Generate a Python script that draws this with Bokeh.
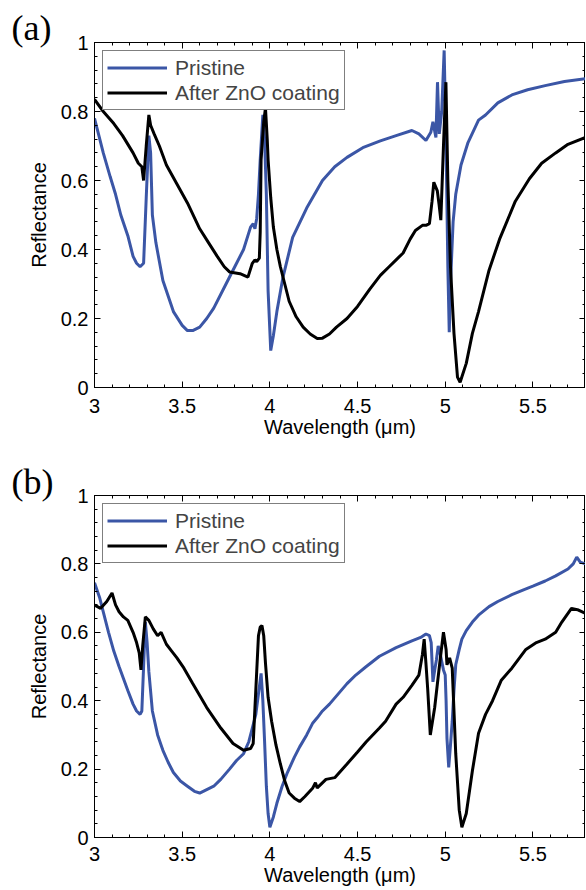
from bokeh.plotting import figure
from bokeh.models import (Legend, LegendItem, LinearAxis, FixedTicker,
                          Range1d, CustomJSTickFormatter)
from bokeh.layouts import column
from bokeh.embed import file_html
from bokeh.resources import INLINE

# ---------------- data ----------------
# Panel (a)
a_pristine_x = [3.00, 3.02, 3.05, 3.09, 3.12, 3.15, 3.19, 3.22, 3.24, 3.26, 3.28, 3.295, 3.31, 3.32,
                3.33, 3.35, 3.39, 3.45, 3.50, 3.53, 3.56, 3.60, 3.64, 3.68, 3.75, 3.80, 3.85, 3.89,
                3.905, 3.915, 3.925, 3.935, 3.945, 3.96, 3.97, 3.98, 3.99, 4.005, 4.02, 4.04, 4.075,
                4.13, 4.21, 4.30, 4.37, 4.44, 4.53, 4.63, 4.72, 4.81, 4.85, 4.89, 4.918, 4.93, 4.947,
                4.956, 4.966, 4.98, 4.994, 5.005, 5.015, 5.023, 5.03, 5.045, 5.06, 5.09, 5.13, 5.19,
                5.23, 5.30, 5.38, 5.47, 5.57, 5.68, 5.80]
a_pristine_y = [0.78, 0.74, 0.68, 0.61, 0.56, 0.50, 0.44, 0.38, 0.36, 0.35, 0.36, 0.55, 0.73, 0.68,
                0.50, 0.42, 0.31, 0.22, 0.18, 0.165, 0.165, 0.175, 0.20, 0.23, 0.30, 0.35, 0.40, 0.465,
                0.475, 0.46, 0.49, 0.56, 0.66, 0.79, 0.72, 0.56, 0.28, 0.107, 0.15, 0.22, 0.32,
                0.435, 0.52, 0.60, 0.64, 0.667, 0.695, 0.715, 0.73, 0.745, 0.735, 0.716, 0.74, 0.77, 0.725,
                0.885, 0.735, 0.80, 0.977, 0.70, 0.35, 0.16, 0.30, 0.48, 0.56, 0.645, 0.71, 0.775,
                0.79, 0.825, 0.848, 0.863, 0.875, 0.887, 0.895]

a_zno_x = [3.00, 3.05, 3.11, 3.16, 3.22, 3.25, 3.27, 3.28, 3.295, 3.31, 3.32, 3.34, 3.37, 3.41, 3.47,
           3.53, 3.60, 3.65, 3.70, 3.74, 3.77, 3.83, 3.875, 3.90, 3.915, 3.925, 3.94, 3.945, 3.95,
           3.965, 3.975, 3.985, 3.99, 4.005, 4.02, 4.04, 4.06, 4.085, 4.11, 4.15, 4.19, 4.23, 4.27,
           4.30, 4.34, 4.38, 4.44, 4.50, 4.57, 4.63, 4.68, 4.72, 4.76, 4.80, 4.83, 4.87, 4.89, 4.91,
           4.925, 4.935, 4.955, 4.965, 4.975, 4.99, 5.004, 5.015, 5.03, 5.05, 5.07, 5.085, 5.12,
           5.155, 5.19, 5.25, 5.31, 5.40, 5.48, 5.55, 5.63, 5.70, 5.80]
a_zno_y = [0.835, 0.80, 0.765, 0.73, 0.68, 0.65, 0.64, 0.60, 0.70, 0.79, 0.76, 0.735, 0.70, 0.645, 0.59,
           0.535, 0.46, 0.42, 0.38, 0.35, 0.335, 0.33, 0.32, 0.36, 0.37, 0.365, 0.375, 0.45, 0.66,
           0.77, 0.81, 0.72, 0.66, 0.55, 0.465, 0.40, 0.35, 0.30, 0.25, 0.205, 0.175, 0.155, 0.142,
           0.143, 0.155, 0.175, 0.20, 0.235, 0.285, 0.325, 0.35, 0.37, 0.39, 0.43, 0.455, 0.47, 0.47, 0.475,
           0.54, 0.595, 0.57, 0.53, 0.485, 0.70, 0.885, 0.60, 0.35, 0.157, 0.03, 0.015, 0.07,
           0.157, 0.22, 0.34, 0.43, 0.54, 0.605, 0.65, 0.68, 0.705, 0.725]

# Panel (b)
b_pristine_x = [3.00, 3.03, 3.05, 3.08, 3.11, 3.14, 3.165, 3.19, 3.22, 3.24, 3.26, 3.27, 3.28, 3.29,
                3.30, 3.31, 3.33, 3.36, 3.38, 3.39, 3.42, 3.45, 3.49, 3.53, 3.57, 3.60, 3.64, 3.68,
                3.72, 3.77, 3.81, 3.85, 3.88, 3.90, 3.92, 3.935, 3.95, 3.96, 3.97, 3.98, 3.99, 4.00,
                4.02, 4.04, 4.07, 4.10, 4.14, 4.17, 4.21, 4.245, 4.27, 4.30, 4.34, 4.39, 4.44, 4.49,
                4.55, 4.625, 4.72, 4.81, 4.86, 4.89, 4.91, 4.92, 4.93, 4.94, 4.95, 4.96, 4.97, 4.98,
                4.99, 5.00, 5.005, 5.01, 5.02, 5.03, 5.04, 5.05, 5.06, 5.08, 5.095, 5.12, 5.155, 5.19,
                5.25, 5.30, 5.38, 5.45, 5.50, 5.57, 5.63, 5.70, 5.73, 5.75, 5.77, 5.80]
b_pristine_y = [0.745, 0.70, 0.66, 0.60, 0.545, 0.50, 0.465, 0.43, 0.39, 0.37, 0.36, 0.37, 0.50, 0.63,
                0.57, 0.485, 0.37, 0.30, 0.27, 0.255, 0.22, 0.19, 0.165, 0.15, 0.135, 0.13, 0.14, 0.15,
                0.17, 0.20, 0.225, 0.245, 0.28, 0.32, 0.36, 0.42, 0.48, 0.40, 0.28, 0.15, 0.07, 0.03,
                0.06, 0.10, 0.15, 0.19, 0.235, 0.265, 0.30, 0.335, 0.35, 0.37, 0.39, 0.42, 0.45, 0.475,
                0.50, 0.53, 0.555, 0.575, 0.585, 0.595, 0.59, 0.57, 0.455, 0.49, 0.52, 0.56, 0.54, 0.515,
                0.49, 0.475, 0.40, 0.29, 0.205, 0.27, 0.34, 0.43, 0.505, 0.55, 0.58, 0.605, 0.63, 0.65,
                0.675, 0.69, 0.71, 0.725, 0.735, 0.75, 0.765, 0.785, 0.80, 0.82, 0.805, 0.80]

b_zno_x = [3.00, 3.035, 3.07, 3.10, 3.12, 3.14, 3.165, 3.19, 3.22, 3.24, 3.255, 3.265, 3.275, 3.29,
           3.31, 3.335, 3.36, 3.38, 3.41, 3.44, 3.47, 3.51, 3.56, 3.60, 3.64, 3.68, 3.72, 3.79, 3.85,
           3.89, 3.905, 3.915, 3.925, 3.935, 3.945, 3.955, 3.965, 3.975, 3.99, 4.01, 4.035, 4.06,
           4.085, 4.11, 4.14, 4.17, 4.20, 4.245, 4.26, 4.27, 4.32, 4.37, 4.44, 4.50, 4.55, 4.625,
           4.66, 4.72, 4.76, 4.81, 4.85, 4.87, 4.88, 4.89, 4.90, 4.915, 4.94, 4.97, 4.99, 5.005,
           5.01, 5.025, 5.04, 5.06, 5.08, 5.095, 5.12, 5.155, 5.19, 5.23, 5.27, 5.32, 5.38, 5.46,
           5.52, 5.57, 5.63, 5.665, 5.72, 5.76, 5.80]
b_zno_y = [0.68, 0.67, 0.69, 0.715, 0.68, 0.66, 0.645, 0.635, 0.60, 0.57, 0.54, 0.49, 0.56, 0.645,
           0.635, 0.61, 0.59, 0.60, 0.565, 0.545, 0.525, 0.495, 0.45, 0.415, 0.38, 0.35, 0.32, 0.275, 0.255,
           0.26, 0.275, 0.38, 0.485, 0.59, 0.615, 0.62, 0.59, 0.51, 0.41, 0.34, 0.27, 0.215,
           0.165, 0.13, 0.115, 0.105, 0.12, 0.145, 0.16, 0.145, 0.17, 0.175, 0.215, 0.25, 0.28, 0.32,
           0.34, 0.39, 0.41, 0.445, 0.475, 0.535, 0.58, 0.51, 0.435, 0.30, 0.38, 0.515, 0.60, 0.55,
           0.505, 0.525, 0.495, 0.245, 0.08, 0.03, 0.07, 0.195, 0.305, 0.36, 0.40, 0.46, 0.495, 0.55,
           0.57, 0.58, 0.60, 0.63, 0.67, 0.665, 0.655]

x_ticks = [3, 3.5, 4, 4.5, 5, 5.5]
y_ticks = [0, 0.2, 0.4, 0.6, 0.8, 1]
x_minor = [round(3 + 0.1 * i, 2) for i in range(29)]
y_minor = [round(0.04 * i, 2) for i in range(26)]

BLUE = "#3b56a6"
FONT = "Liberation Sans"


def style_axis(ax, ticks, minor, show_labels):
    ax.ticker = FixedTicker(ticks=ticks, minor_ticks=minor)
    ax.major_tick_in = 6
    ax.major_tick_out = 0
    ax.minor_tick_in = 3
    ax.minor_tick_out = 0
    ax.axis_line_color = "black"
    ax.major_tick_line_color = "black"
    ax.minor_tick_line_color = "black"
    ax.axis_line_width = 1
    if show_labels:
        ax.formatter = CustomJSTickFormatter(code="return String(tick);")
        ax.major_label_text_font = FONT
        ax.major_label_text_font_size = "20px"
        ax.major_label_text_color = "black"
    else:
        ax.formatter = CustomJSTickFormatter(code="return '';")
        ax.major_label_text_font_size = "1px"
        ax.major_label_standoff = 0


def make_panel(px, py, zx, zy, tag, tag_standoff, top_border, bottom_border, fh, tick_standoff):
    p = figure(frame_width=491, frame_height=fh,
               x_range=Range1d(3, 5.8), y_range=Range1d(0, 1),
               output_backend="svg", toolbar_location=None,
               min_border_left=94, min_border_right=0,
               min_border_top=top_border, min_border_bottom=bottom_border)
    p.grid.visible = False
    p.outline_line_color = "black"
    p.background_fill_color = "white"
    p.border_fill_color = "white"

    # panel tag "(a)" / "(b)" as the figure title, shifted into the left margin
    p.title.text = tag
    p.title.align = "left"
    p.title.offset = -83
    p.title.standoff = tag_standoff
    p.title.text_font = "Liberation Serif"
    p.title.text_font_style = "normal"
    p.title.text_font_size = "36px"
    p.title.text_color = "black"

    style_axis(p.xaxis[0], x_ticks, x_minor, True)
    style_axis(p.yaxis[0], y_ticks, y_minor, True)
    p.xaxis.axis_label = "Wavelength (μm)"
    p.yaxis.axis_label = "Reflectance"
    for ax in (p.xaxis[0], p.yaxis[0]):
        ax.axis_label_text_font = FONT
        ax.axis_label_text_font_size = "20px"
        ax.axis_label_text_font_style = "normal"
        ax.axis_label_text_color = "black"
    p.xaxis.major_label_standoff = tick_standoff
    p.xaxis.axis_label_standoff = 0
    p.yaxis.major_label_standoff = 6
    p.yaxis.axis_label_standoff = 8

    top = LinearAxis()
    style_axis(top, x_ticks, x_minor, False)
    p.add_layout(top, "above")
    right = LinearAxis()
    style_axis(right, y_ticks, y_minor, False)
    p.add_layout(right, "right")

    rb = p.line(px, py, line_color=BLUE, line_width=3)
    rk = p.line(zx, zy, line_color="black", line_width=3)

    leg = Legend(items=[LegendItem(label="Pristine", renderers=[rb]),
                        LegendItem(label="After ZnO coating", renderers=[rk])],
                 location="top_left", margin=8, padding=4, spacing=0,
                 glyph_width=60, glyph_height=25, label_height=25, label_standoff=8,
                 label_text_font=FONT, label_text_font_size="21px",
                 border_line_color="black", border_line_width=1,
                 background_fill_color="white", background_fill_alpha=1)
    p.add_layout(leg)
    return p


p1 = make_panel(a_pristine_x, a_pristine_y, a_zno_x, a_zno_y, "(a)", -10, 42, 58, 345, 11)
p2 = make_panel(b_pristine_x, b_pristine_y, b_zno_x, b_zno_y, "(b)", -13, 50, 52, 342, 9)

layout = column(p1, p2, spacing=0)
open("out.html", "w").write(file_html(layout, INLINE))
